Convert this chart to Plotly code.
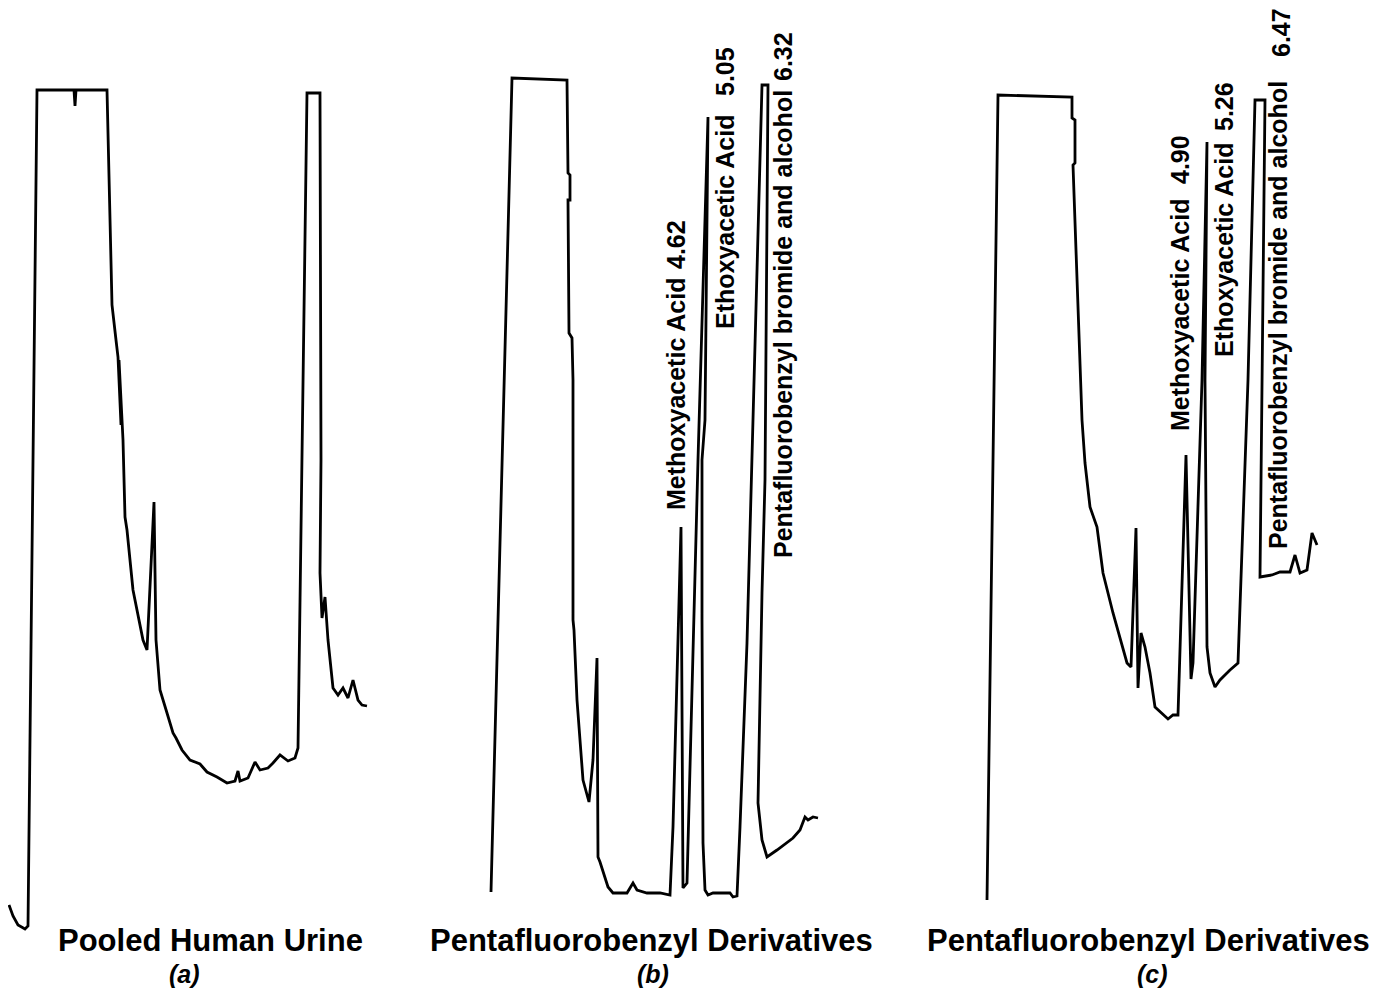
import plotly.graph_objects as go

a_time = [9, 13, 18, 25, 28, 33, 37, 74, 75, 76, 107, 112, 114, 113, 116, 118, 121, 119, 122, 123,
          125, 127, 133, 143, 147, 154, 156, 160, 167, 173, 176, 182, 190, 200, 207, 217, 227, 235,
          238, 240, 248, 255, 260, 268, 273, 280, 288, 295, 298, 302, 307, 320, 321, 320, 322, 325,
          328, 333, 338, 343, 348, 353, 358, 362, 367]
a_signal = [905, 916, 925, 929, 926, 440, 90, 90, 106, 90, 90, 305, 325, 310, 340, 357, 425, 360, 420, 440,
            517, 530, 590, 640, 650, 502, 640, 690, 713, 733, 738, 750, 760, 764, 772, 777, 783, 781,
            771, 781, 778, 762, 770, 768, 763, 755, 761, 758, 748, 460, 93, 93, 460, 573, 618, 597,
            640, 688, 695, 688, 698, 680, 700, 705, 706]

b_time = [491, 512, 567, 568, 570, 570, 568, 569, 572, 573, 573, 574, 577, 580, 583, 589, 593, 597,
          598, 600, 608, 613, 627, 633, 637, 647, 660, 670, 673, 681, 683, 687, 694, 698, 708, 705,
          702, 702, 703, 705, 708, 713, 730, 733, 737, 740, 747, 752, 762, 768, 765, 762, 758, 762,
          767, 777, 793, 800, 805, 808, 813, 818]
b_signal = [892, 78, 80, 173, 175, 200, 200, 333, 338, 380, 620, 630, 700, 737, 780, 802, 760, 658,
            857, 862, 887, 893, 893, 883, 890, 893, 893, 895, 827, 527, 888, 883, 620, 460, 117, 420,
            460, 620, 843, 890, 895, 893, 893, 897, 896, 827, 643, 460, 85, 85, 480, 593, 803, 840,
            857, 850, 838, 830, 817, 820, 817, 818]

c_time = [987, 998, 1072, 1072, 1075, 1075, 1073, 1082, 1085, 1090, 1097, 1103, 1113, 1122, 1127,
          1131, 1136, 1138, 1141, 1145, 1150, 1155, 1160, 1168, 1173, 1178, 1186, 1191, 1193, 1202,
          1207, 1205, 1207, 1210, 1215, 1220, 1230, 1238, 1248, 1255, 1265, 1262, 1260, 1272, 1280,
          1290, 1295, 1300, 1307, 1312, 1317]
c_signal = [900, 95, 97, 118, 120, 163, 165, 420, 463, 507, 527, 573, 613, 647, 663,
            667, 528, 688, 633, 647, 673, 707, 712, 719, 715, 715, 455, 679, 663, 380,
            142, 380, 647, 673, 687, 680, 670, 663, 380, 100, 100, 380, 577, 575, 572,
            572, 555, 573, 570, 533, 545]

# ---- peak labels: compound name and retention time (min) ----
peak_names = ["Methoxyacetic Acid", "Ethoxyacetic Acid", "Pentafluorobenzyl bromide and alcohol",
              "Methoxyacetic Acid", "Ethoxyacetic Acid", "Pentafluorobenzyl bromide and alcohol"]
retention_times = ["4.62", "5.05", "6.32", "4.90", "5.26", "6.47"]
name_x = [676, 725, 783, 1180, 1224, 1278]
name_y = [394, 222, 324, 315, 250, 315]
rt_x = [676, 725, 783, 1180, 1224, 1281]
rt_y = [245, 72, 57, 160, 107, 33]

panel_titles = ["Pooled Human Urine", "Pentafluorobenzyl Derivatives", "Pentafluorobenzyl Derivatives"]
panel_title_x = [210, 651, 1148]
panel_letters = ["(a)", "(b)", "(c)"]
panel_letter_x = [184, 653, 1152]

fig = go.Figure()
for xs, ys in [(a_time, a_signal), (b_time, b_signal), (c_time, c_signal)]:
    fig.add_trace(go.Scatter(x=xs, y=ys, mode="lines",
                             line=dict(color="black", width=2.8),
                             hoverinfo="skip", showlegend=False))

label_font = dict(family="Liberation Sans, Arial", size=25, color="black", weight="bold")
for t, x, y in zip(peak_names + retention_times, name_x + rt_x, name_y + rt_y):
    fig.add_annotation(x=x, y=y, text=t, textangle=-90, showarrow=False,
                       xanchor="center", yanchor="middle", font=label_font)

for t, x in zip(panel_titles, panel_title_x):
    fig.add_annotation(x=x, y=940, text=t, showarrow=False, xanchor="center", yanchor="middle",
                       font=dict(family="Liberation Sans, Arial", size=31, color="black", weight="bold"))
for t, x in zip(panel_letters, panel_letter_x):
    fig.add_annotation(x=x, y=974, text=t, showarrow=False, xanchor="center", yanchor="middle",
                       font=dict(family="Liberation Sans, Arial", size=25, color="black",
                                 weight="bold", style="italic"))

# the page has an 8 px body margin: size the figure to fit inside and align ranges to page pixels
fig.update_xaxes(range=[8, 1377], visible=False, fixedrange=True)
fig.update_yaxes(range=[989, 8], visible=False, fixedrange=True)
fig.update_layout(width=1369, height=981, margin=dict(l=0, r=0, t=0, b=0),
                  paper_bgcolor="white", plot_bgcolor="white")
fig.write_html("out.html")
